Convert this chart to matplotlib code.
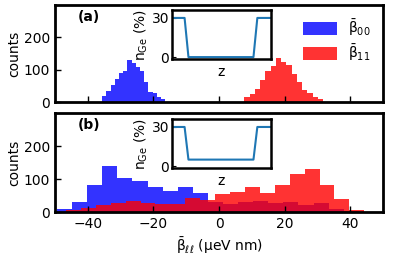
import numpy as np
import matplotlib
matplotlib.use("Agg")
import matplotlib.pyplot as plt

# Panel (a): histogram of beta_00 and beta_11, narrow bins
a_blue_edges = np.linspace(-35.6, -16.4, 16)
a_blue_counts = [18, 35, 54, 72, 89, 97, 129, 120, 108, 97, 61, 32, 27, 16, 9]
a_red_edges = np.linspace(7.7, 31.7, 16)
a_red_counts = [16, 25, 41, 67, 97, 111, 137, 124, 113, 88, 63, 38, 29, 16, 9]

# Panel (b): 20 bins each
b_blue_edges = np.linspace(-49.4, 42.6, 21)
b_blue_counts = [8, 31, 82, 140, 102, 95, 75, 65, 77, 57,
                 30, 26, 30, 33, 28, 31, 22, 28, 8, 3]
b_red_edges = np.linspace(-46.7, 44.3, 21)
b_red_counts = [6, 13, 22, 29, 34, 29, 26, 26, 42, 36,
                55, 62, 77, 58, 82, 117, 130, 82, 39, 6]

# Ge concentration profiles for the insets
z_prof = [0, 12, 16, 83, 87, 100]
nge_a = [30, 30, 0, 0, 30, 30]
nge_b = [30, 30, 5, 5, 30, 30]

plt.rcParams['font.size'] = 10
plt.rcParams['mathtext.default'] = 'regular'
fig = plt.figure(figsize=(3.99, 2.59), dpi=100)

ax_a = fig.add_axes([0.138, 0.606, 0.822, 0.375])
ax_b = fig.add_axes([0.138, 0.181, 0.822, 0.382])

blue = (0, 0, 1, 0.8)
red = (1, 0, 0, 0.8)


def dibujar_hist(ax, be, bc, re, rc):
    ax.hist(be[:-1], bins=be, weights=bc, color=blue, label=r'$\bar{\beta}_{00}$')
    ax.hist(re[:-1], bins=re, weights=rc, color=red, label=r'$\bar{\beta}_{11}$')
    ax.set_xlim(-50, 50)
    ax.set_ylim(0, 300)
    ax.set_xticks([-40, -20, 0, 20, 40])
    ax.set_yticks([0, 100, 200])
    ax.tick_params(direction='in', length=4, width=1)
    for s in ax.spines.values():
        s.set_linewidth(2)
    ax.set_ylabel('counts', labelpad=2)


dibujar_hist(ax_a, a_blue_edges, a_blue_counts, a_red_edges, a_red_counts)
dibujar_hist(ax_b, b_blue_edges, b_blue_counts, b_red_edges, b_red_counts)
ax_a.tick_params(labelbottom=False)
ax_b.set_xlabel(r'$\bar{\beta}_{\ell\ell}$ (μeV nm)', labelpad=3)

ax_a.text(0.07, 0.88, '(a)', transform=ax_a.transAxes, fontweight='bold', va='center')
ax_b.text(0.07, 0.88, '(b)', transform=ax_b.transAxes, fontweight='bold', va='center')

ax_a.legend(loc='upper right', frameon=False, handlelength=2.4, handleheight=1.0,
            borderaxespad=0.5, labelspacing=0.3, handletextpad=0.8)

# Insets
for pos, perfil in [([0.431, 0.772, 0.248, 0.189], nge_a),
                    ([0.431, 0.351, 0.248, 0.189], nge_b)]:
    ins = fig.add_axes(pos)
    ins.plot(z_prof, perfil, color='#1f77b4', lw=1.5)
    ins.set_xlim(-1, 101)
    ins.set_ylim(-1.5, 36)
    ins.set_xticks([])
    ins.set_yticks([0, 30])
    ins.tick_params(direction='in', length=3, pad=2)
    for s in ins.spines.values():
        s.set_linewidth(1.8)
    ins.set_xlabel('z', labelpad=4)
    ins.set_ylabel(r'$n_{Ge}$ (%)', labelpad=1)

fig.savefig('out.png', dpi=100)
